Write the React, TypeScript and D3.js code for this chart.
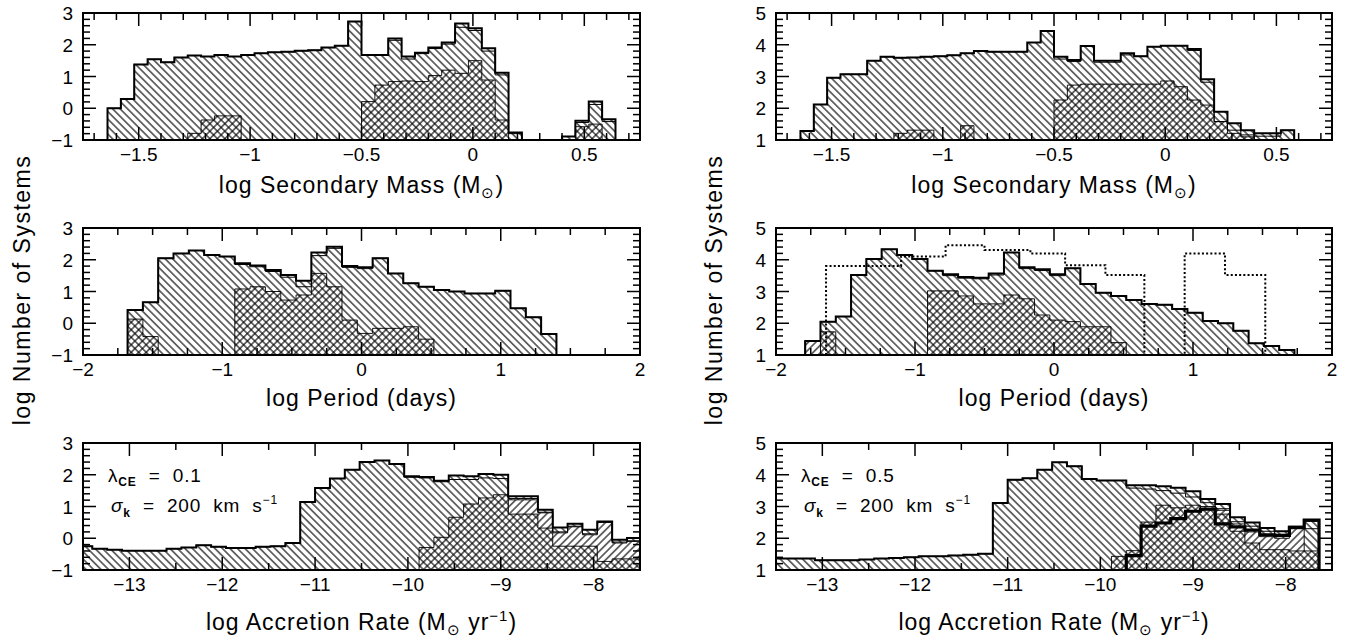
import React from 'react';
import * as d3 from 'd3';

// ---- bin grids (log units) ----
const massStart = -1.64, massWidth = 0.06;
const perStart = -1.79, perWidth = 0.11;
const accStart = -13.56, accWidth = 0.16;

// ---- log Secondary Mass, lambda = 0.1 (left) ----
const massHatchL = [0.00, 0.29, 1.38, 1.54, 1.45, 1.60, 1.66, 1.63, 1.68, 1.63, 1.68, 1.73, 1.76, 1.78, 1.81, 1.83, 1.91, 1.97, 2.73, 1.68, 1.68, 2.20, 1.63, 1.75, 1.91, 2.07, 2.67, 2.52, 1.89, 1.12, -0.76, null, null, null, -0.89, -0.39, 0.21, -0.35];
const massUpperL = [0.00, 0.29, 1.38, 1.54, 1.45, 1.60, 1.66, 1.63, 1.68, 1.63, 1.68, 1.73, 1.76, 1.78, 1.81, 1.83, 1.91, 1.97, 2.73, 1.68, 1.68, 2.14, 1.55, 1.72, 1.88, 2.02, 2.55, 2.45, 1.80, 1.05, -0.80, null, null, null, -0.89, -0.45, 0.12, -0.42];
const massCrossL = [null, null, null, null, null, null, -0.79, -0.37, -0.24, -0.24, null, null, null, null, null, null, null, null, null, 0.21, 0.73, 0.84, 0.86, 0.84, 1.03, 1.20, 1.10, 1.50, 0.89, -0.37, null, null, null, null, null, -0.58, -0.50, null];

// ---- log Secondary Mass, lambda = 0.5 (right) ----
const massHatchR = [1.28, 2.12, 2.96, 3.07, 3.07, 3.50, 3.62, 3.59, 3.60, 3.62, 3.64, 3.67, 3.73, 3.80, 3.78, 3.78, 3.78, 4.07, 4.43, 3.62, 3.52, 3.96, 3.50, 3.50, 3.73, 3.64, 3.94, 3.97, 3.97, 3.87, 2.91, 1.89, 1.53, 1.31, 1.21, 1.21, 1.31];
const massUpperR = [1.28, 2.12, 2.96, 3.07, 3.07, 3.50, 3.62, 3.59, 3.60, 3.62, 3.64, 3.67, 3.73, 3.80, 3.78, 3.78, 3.78, 4.07, 4.43, 3.55, 3.47, 3.96, 3.45, 3.45, 3.68, 3.64, 3.94, 3.97, 3.97, 3.82, 2.82, 1.58, 1.31, 1.16, 1.12, 1.12, 1.31];
const massCrossR = [null, null, null, null, null, null, null, 1.21, 1.31, 1.31, null, null, 1.45, null, null, null, null, null, null, 2.26, 2.73, 2.76, 2.76, 2.76, 2.76, 2.76, 2.76, 2.86, 2.68, 2.26, 2.10, 1.58, 1.21, 1.10, null, null, null];

// ---- log Period, left ----
const perHatchL = [null, 0.42, 0.66, 2.05, 2.20, 2.29, 2.15, 2.10, 1.89, 1.82, 1.68, 1.52, 1.34, 2.23, 2.41, 1.80, 1.76, 2.05, 1.57, 1.26, 1.15, 1.05, 1.00, 0.94, 0.94, 1.02, 0.47, 0.19, -0.34];
const perUpperL = [null, 0.42, 0.66, 2.05, 2.20, 2.29, 2.15, 2.10, 1.85, 1.78, 1.63, 1.45, 1.15, 2.13, 2.36, 1.76, 1.72, 2.05, 1.57, 1.26, 1.15, 1.05, 1.00, 0.94, 0.94, 1.02, 0.47, 0.19, -0.34];
const perCrossL = [null, 0.13, -0.42, null, null, null, null, null, 1.08, 1.15, 1.00, 0.73, 0.89, 1.57, 1.15, 0.10, -0.32, -0.16, -0.16, -0.11, -0.50, null, null, null, null, null, null, null, null];

// ---- log Period, right ----
const perHatchR = [1.44, 2.05, 2.21, 3.52, 4.02, 4.33, 4.15, 4.02, 3.65, 3.54, 3.46, 3.43, 3.57, 4.23, 3.76, 3.70, 3.54, 3.73, 3.24, 2.96, 2.86, 2.73, 2.61, 2.58, 2.45, 2.33, 2.07, 2.00, 1.76, 1.37, 1.28, 1.16];
const perUpperR = [1.44, 2.05, 2.21, 3.52, 4.02, 4.33, 4.15, 4.02, 3.65, 3.50, 3.42, 3.40, 3.52, 4.23, 3.72, 3.66, 3.50, 3.73, 3.24, 2.96, 2.86, 2.73, 2.61, 2.58, 2.45, 2.33, 2.07, 2.00, 1.76, 1.37, 1.28, 1.16];
const perSlashR = [1.44, null, null, null, null, null, null, null, null, null, null, null, null, null, null, null, null, null, null, null, null, null, null, null, null, null, null, null, null, null, null, null];
const perCrossR = [null, 1.73, null, null, null, null, null, null, 3.02, 3.02, 2.86, 2.61, 2.61, 2.89, 2.77, 2.26, 2.10, 2.05, 1.89, 1.89, 1.39, null, null, null, null, null, null, null, null, null, null, null];
const perDottedEdges = [-1.64, -1.10, -0.78, -0.50, -0.17, 0.08, 0.37, 0.65, 0.94, 1.23, 1.52];
const perDottedR = [3.80, 4.10, 4.46, 4.31, 4.20, 3.83, 3.52, 1.00, 4.20, 3.52];

// ---- log Accretion Rate, left ----
const accHatchL = [-0.25, -0.33, -0.36, -0.39, -0.39, -0.39, -0.33, -0.29, -0.22, -0.27, -0.31, -0.31, -0.27, -0.25, -0.15, 1.14, 1.58, 1.88, 2.16, 2.40, 2.45, 2.34, 1.95, 1.93, 1.81, 1.98, 1.95, 2.02, 2.00, 1.32, 1.32, 0.90, 0.34, 0.46, 0.27, 0.53, -0.05, 0.01];
const accUpperL = [-0.25, -0.33, -0.36, -0.39, -0.39, -0.39, -0.33, -0.29, -0.22, -0.27, -0.31, -0.31, -0.27, -0.25, -0.15, 1.14, 1.58, 1.88, 2.16, 2.40, 2.45, 2.34, 1.92, 1.90, 1.78, 1.85, 1.85, 1.90, 1.88, 1.25, 1.25, 0.82, 0.20, 0.38, 0.14, 0.50, -0.12, -0.08];
const accSlashL = [null, null, null, null, null, null, null, null, null, null, null, null, null, null, null, null, null, null, null, null, null, null, null, null, null, null, null, null, null, 1.21, 1.21, 0.80, 0.17, 0.36, 0.11, 0.51, -0.15, -0.10];
const accCrossL = [null, null, null, null, null, null, null, null, null, null, null, null, null, null, null, null, null, null, null, null, null, null, null, -0.29, 0.03, 0.66, 1.08, 1.27, 1.37, 0.76, 0.76, 0.32, -0.25, -0.25, -0.25, -0.73, -0.65, -0.65];

// ---- log Accretion Rate, right ----
const accHatchR = [1.36, 1.36, 1.36, 1.31, 1.31, 1.31, 1.33, 1.36, 1.38, 1.40, 1.43, 1.43, 1.46, 1.48, 1.51, 3.11, 3.84, 3.89, 4.16, 4.39, 4.27, 3.87, 3.82, 3.82, 3.67, 3.67, 3.64, 3.59, 3.48, 3.24, 3.08, 2.66, 2.50, 2.32, 2.22, 2.36, 2.55];
const accUpperR = [1.36, 1.36, 1.36, 1.31, 1.31, 1.31, 1.33, 1.36, 1.38, 1.40, 1.43, 1.43, 1.46, 1.48, 1.51, 3.11, 3.84, 3.89, 4.16, 4.39, 4.27, 3.87, 3.82, 3.82, 3.58, 3.55, 3.50, 3.42, 3.30, 3.12, 2.93, 2.52, 2.38, 2.22, 2.12, 2.30, 2.30];
const accSlashR = [null, null, null, null, null, null, null, null, null, null, null, null, null, null, null, null, null, null, null, null, null, null, null, null, null, null, null, null, null, 3.00, 2.88, 2.45, 2.20, 2.05, 2.00, 2.34, null];
const accCrossR = [null, null, null, null, null, null, null, null, null, null, null, null, null, null, null, null, null, null, null, null, null, null, null, 1.43, 1.61, 2.51, 3.04, 2.96, 3.04, 2.90, 2.76, 2.22, 1.85, 1.64, 1.64, 1.60, 1.60];
const accThickR = [null, null, null, null, null, null, null, null, null, null, null, null, null, null, null, null, null, null, null, null, null, null, null, null, 1.45, 2.38, 2.48, 2.62, 2.85, 2.92, 2.45, 2.36, 2.26, 2.11, 2.09, 2.34, 2.57];

const FONT = '"Liberation Sans", Arial, Helvetica, sans-serif';
const S = 5.3; // hatch spacing
const NB = '\u00A0';

const edgesOf = (start: number, w: number, n: number) => d3.range(n + 1).map(i => start + i * w);

function segments(edges: number[], values: (number | null)[], base: number) {
  const out: [number, number][][] = [];
  let cur: [number, number][] | null = null;
  values.forEach((v, i) => {
    if (v == null) {
      if (cur) { cur.push([edges[i], base]); out.push(cur); cur = null; }
      return;
    }
    const yv = Math.max(v, base);
    if (!cur) cur = [[edges[i], base]];
    cur.push([edges[i], yv], [edges[i + 1], yv]);
  });
  if (cur) { (cur as [number, number][]).push([edges[values.length], base]); out.push(cur); }
  return out;
}

const ticksOf = (d0: number, d1: number, step: number) => {
  const a = Math.ceil(d0 / step - 1e-9), b = Math.floor(d1 / step + 1e-9);
  return d3.range(a, b + 1).map(i => +(i * step).toFixed(6));
};
const isMul = (v: number, m: number) => Math.abs(v / m - Math.round(v / m)) < 1e-6;
const fmt = d3.format('');

type Layer = { edges: number[]; values: (number | null)[]; kind: string };

const LEFT = [83, 640], RIGHT = [776, 1332];
const ROWS = [[13, 140], [228, 355], [443, 570]];

const mL = edgesOf(massStart, massWidth, massHatchL.length);
const mR = edgesOf(massStart, massWidth, massHatchR.length);
const pL = edgesOf(perStart, perWidth, perHatchL.length);
const pR = edgesOf(perStart, perWidth, perHatchR.length);
const aL = edgesOf(accStart, accWidth, accHatchL.length);
const aR = edgesOf(accStart, accWidth, accHatchR.length);

const panels = [
  { id: 'tl', col: LEFT, row: 0, xDomain: [-1.75, 0.75], yDomain: [-1, 3], xMinor: 0.1, xMajor: 0.5,
    layers: [
      { edges: mL, values: massHatchL, kind: 'hatch' },
      { edges: mL, values: massCrossL, kind: 'cross' },
      { edges: mL, values: massUpperL, kind: 'thin' },
      { edges: mL, values: massHatchL, kind: 'outline' },
    ] },
  { id: 'tr', col: RIGHT, row: 0, xDomain: [-1.75, 0.75], yDomain: [1, 5], xMinor: 0.1, xMajor: 0.5,
    layers: [
      { edges: mR, values: massHatchR, kind: 'hatch' },
      { edges: mR, values: massCrossR, kind: 'cross' },
      { edges: mR, values: massUpperR, kind: 'thin' },
      { edges: mR, values: massHatchR, kind: 'outline' },
    ] },
  { id: 'ml', col: LEFT, row: 1, xDomain: [-2, 2], yDomain: [-1, 3], xMinor: 0.25, xMajor: 1,
    layers: [
      { edges: pL, values: perHatchL, kind: 'hatch' },
      { edges: pL, values: perCrossL, kind: 'cross' },
      { edges: pL, values: perUpperL, kind: 'thin' },
      { edges: pL, values: perHatchL, kind: 'outline' },
    ] },
  { id: 'mr', col: RIGHT, row: 1, xDomain: [-2, 2], yDomain: [1, 5], xMinor: 0.25, xMajor: 1,
    layers: [
      { edges: pR, values: perHatchR, kind: 'hatch' },
      { edges: pR, values: perSlashR, kind: 'slash' },
      { edges: pR, values: perCrossR, kind: 'cross' },
      { edges: pR, values: perUpperR, kind: 'thin' },
      { edges: pR, values: perHatchR, kind: 'outline' },
      { edges: perDottedEdges, values: perDottedR, kind: 'dotted' },
    ] },
  { id: 'bl', col: LEFT, row: 2, xDomain: [-13.5, -7.5], yDomain: [-1, 3], xMinor: 0.5, xMajor: 1, lambda: '0.1',
    layers: [
      { edges: aL, values: accHatchL, kind: 'hatch' },
      { edges: aL, values: accSlashL, kind: 'slash' },
      { edges: aL, values: accCrossL, kind: 'cross' },
      { edges: aL, values: accUpperL, kind: 'thin' },
      { edges: aL, values: accHatchL, kind: 'outline' },
    ] },
  { id: 'br', col: RIGHT, row: 2, xDomain: [-13.5, -7.5], yDomain: [1, 5], xMinor: 0.5, xMajor: 1, lambda: '0.5',
    layers: [
      { edges: aR, values: accHatchR, kind: 'hatch' },
      { edges: aR, values: accSlashR, kind: 'slash' },
      { edges: aR, values: accCrossR, kind: 'cross' },
      { edges: aR, values: accUpperR, kind: 'thin' },
      { edges: aR, values: accHatchR, kind: 'outline' },
      { edges: aR, values: accThickR, kind: 'thick' },
    ] },
];

function Panel({ p }: { p: any }) {
  const [x0, x1] = p.col;
  const [y0, y1] = ROWS[p.row];
  const x = d3.scaleLinear().domain(p.xDomain).range([x0, x1]);
  const y = d3.scaleLinear().domain(p.yDomain).range([y1, y0]);
  const base = p.yDomain[0];
  const line = d3.line<[number, number]>().x(d => x(d[0])).y(d => y(d[1]));
  const xt = ticksOf(p.xDomain[0], p.xDomain[1], p.xMinor);
  const yt = ticksOf(p.yDomain[0], p.yDomain[1], 0.2);
  const MAJ = 13, MIN = 7;

  const drawLayer = (l: Layer, i: number) => {
    const segs = segments(l.edges, l.values, base);
    return segs.map((s, j) => {
      const d = line(s) as string;
      const key = `${i}-${j}`;
      switch (l.kind) {
        case 'hatch': return <path key={key} d={d + 'Z'} fill="url(#hb)" stroke="none" />;
        case 'slash': return <path key={key} d={d + 'Z'} fill="url(#hf)" stroke="#000" strokeWidth={0.9} />;
        case 'cross': return <path key={key} d={d + 'Z'} fill="url(#hx)" stroke="#000" strokeWidth={0.9} />;
        case 'thin': return <path key={key} d={d} fill="none" stroke="#000" strokeWidth={1} />;
        case 'outline': return <path key={key} d={d} fill="none" stroke="#000" strokeWidth={2} />;
        case 'thick': return <path key={key} d={d} fill="none" stroke="#000" strokeWidth={3.2} />;
        case 'dotted': return <path key={key} d={d} fill="none" stroke="#000" strokeWidth={2} strokeDasharray="2 2.2" />;
        default: return null;
      }
    });
  };

  return (
    <g>
      <clipPath id={`clip-${p.id}`}>
        <rect x={x0} y={y0} width={x1 - x0} height={y1 - y0} />
      </clipPath>
      <g clipPath={`url(#clip-${p.id})`}>
        {p.layers.map((l: Layer, i: number) => drawLayer(l, i))}
      </g>
      {xt.map(v => {
        const len = isMul(v, p.xMajor) ? MAJ : MIN;
        const px = x(v);
        return (
          <g key={'x' + v}>
            <line x1={px} x2={px} y1={y1} y2={y1 - len} stroke="#000" strokeWidth={1.5} />
            <line x1={px} x2={px} y1={y0} y2={y0 + len} stroke="#000" strokeWidth={1.5} />
            {isMul(v, p.xMajor) && (
              <text x={px} y={y1 + 21} textAnchor="middle" fontSize={19} fontFamily={FONT}>{fmt(v)}</text>
            )}
          </g>
        );
      })}
      {yt.map(v => {
        const len = isMul(v, 1) ? MAJ : MIN;
        const py = y(v);
        return (
          <g key={'y' + v}>
            <line x1={x0} x2={x0 + len} y1={py} y2={py} stroke="#000" strokeWidth={1.5} />
            <line x1={x1} x2={x1 - len} y1={py} y2={py} stroke="#000" strokeWidth={1.5} />
            {isMul(v, 1) && (
              <text x={x0 - 10} y={py + 7} textAnchor="end" fontSize={19} fontFamily={FONT}>{fmt(v)}</text>
            )}
          </g>
        );
      })}
      <rect x={x0} y={y0} width={x1 - x0} height={y1 - y0} fill="none" stroke="#000" strokeWidth={2} />
      {p.lambda && (
        <g fontFamily={FONT} fontSize={19} letterSpacing={0.8}>
          <text x={x0 + 25} y={y0 + 39}>
            λ<tspan dy={4} fontSize={12} fontWeight="bold">CE</tspan><tspan dy={-4}>{`${NB}${NB}=${NB}${NB}${p.lambda}`}</tspan>
          </text>
          <text x={x0 + 28} y={y0 + 69}>
            <tspan fontStyle="italic">σ</tspan><tspan dy={5} fontSize={12} fontWeight="bold">k</tspan><tspan dy={-5}>{`${NB}${NB}=${NB}${NB}200${NB}${NB}km${NB}${NB}s`}</tspan><tspan dy={-8} fontSize={12}>−1</tspan>
          </text>
        </g>
      )}
    </g>
  );
}

const titleY = [193, 406, 630];

function XTitle({ cx, row }: { cx: number; row: number }) {
  const yy = titleY[row];
  const props = { x: cx, y: yy, textAnchor: 'middle' as const, fontSize: 23, fontFamily: FONT, letterSpacing: 1 };
  if (row === 0) return <text {...props}>log Secondary Mass (M<tspan dy={5} fontSize={15}>⊙</tspan><tspan dy={-5}>)</tspan></text>;
  if (row === 1) return <text {...props}>log Period (days)</text>;
  return (
    <text {...props}>
      log Accretion Rate (M<tspan dy={5} fontSize={15}>⊙</tspan><tspan dy={-5}> yr</tspan><tspan dy={-9} fontSize={15}>−1</tspan><tspan dy={9}>)</tspan>
    </text>
  );
}

export default function App() {
  const cxL = (LEFT[0] + LEFT[1]) / 2, cxR = (RIGHT[0] + RIGHT[1]) / 2;
  return (
    <svg width={1363} height={642} style={{ position: 'absolute', left: 0, top: 0, display: 'block', background: '#fff' }}>
      <defs>
        <pattern id="hb" patternUnits="userSpaceOnUse" width={S} height={S} patternTransform="rotate(-45)">
          <line x1={S / 2} y1={-1} x2={S / 2} y2={S + 1} stroke="#000" strokeWidth={1.1} />
        </pattern>
        <pattern id="hf" patternUnits="userSpaceOnUse" width={S} height={S} patternTransform="rotate(45)">
          <rect width={S} height={S} fill="#fff" />
          <line x1={S / 2} y1={-1} x2={S / 2} y2={S + 1} stroke="#000" strokeWidth={1.1} />
        </pattern>
        <pattern id="hx" patternUnits="userSpaceOnUse" width={S} height={S} patternTransform="rotate(45)">
          <rect width={S} height={S} fill="#fff" />
          <line x1={S / 2} y1={-1} x2={S / 2} y2={S + 1} stroke="#000" strokeWidth={1.1} />
          <line y1={S / 2} x1={-1} y2={S / 2} x2={S + 1} stroke="#000" strokeWidth={1.1} />
        </pattern>
      </defs>
      {panels.map(p => <Panel key={p.id} p={p} />)}
      {[0, 1, 2].map(r => <XTitle key={'l' + r} cx={cxL} row={r} />)}
      {[0, 1, 2].map(r => <XTitle key={'r' + r} cx={cxR} row={r} />)}
      <text transform="translate(30,290) rotate(-90)" textAnchor="middle" fontSize={23} fontFamily={FONT} letterSpacing={1.5}>log Number of Systems</text>
      <text transform="translate(722,290) rotate(-90)" textAnchor="middle" fontSize={23} fontFamily={FONT} letterSpacing={1.5}>log Number of Systems</text>
    </svg>
  );
}
